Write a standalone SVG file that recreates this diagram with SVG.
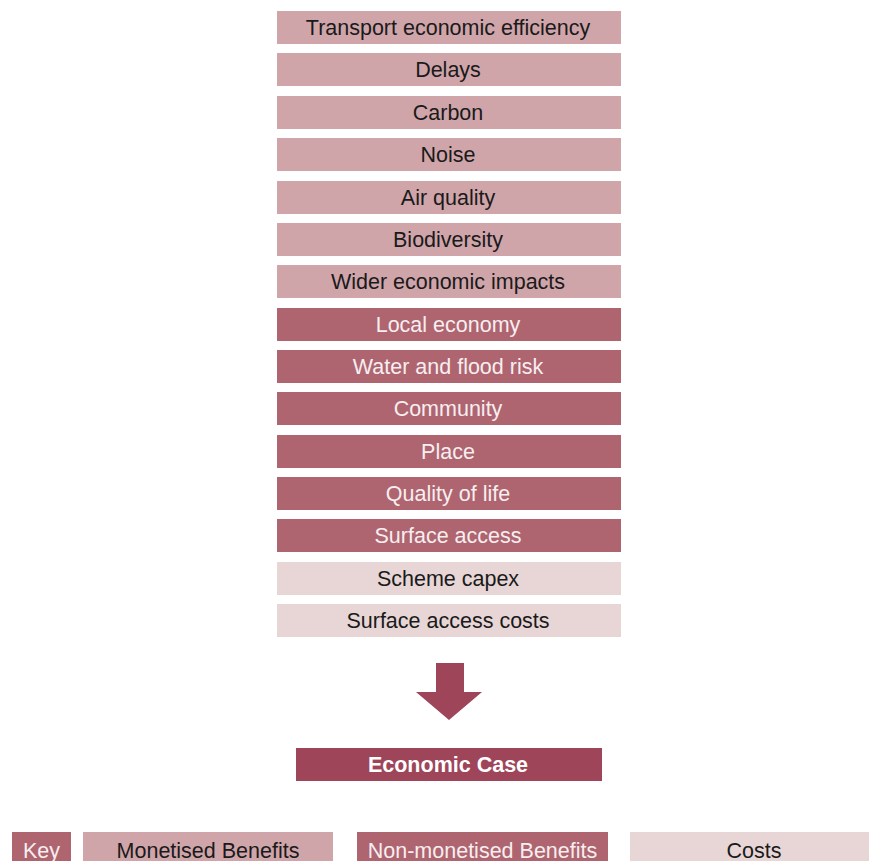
<svg xmlns="http://www.w3.org/2000/svg" width="869" height="861" viewBox="0 0 869 861">
<style>
text{font-family:"Liberation Sans",Arial,sans-serif;font-size:21.5px;text-anchor:middle;dominant-baseline:central}
.m rect{fill:#d0a5aa}.m text{fill:#1a1a1a}
.n rect{fill:#ae6570}.n text{fill:#f7eef0}
.c rect{fill:#e8d6d7}.c text{fill:#1a1a1a}
</style>
<rect width="869" height="861" fill="#fff"/>
<g id="n1" class="m"><rect x="277" y="11" width="344" height="33"/><text x="448" y="28">Transport economic efficiency</text></g>
<g id="n2" class="m"><rect x="277" y="53" width="344" height="33"/><text x="448" y="70">Delays</text></g>
<g id="n3" class="m"><rect x="277" y="96" width="344" height="33"/><text x="448" y="113">Carbon</text></g>
<g id="n4" class="m"><rect x="277" y="138" width="344" height="33"/><text x="448" y="155">Noise</text></g>
<g id="n5" class="m"><rect x="277" y="181" width="344" height="33"/><text x="448" y="198">Air quality</text></g>
<g id="n6" class="m"><rect x="277" y="223" width="344" height="33"/><text x="448" y="240">Biodiversity</text></g>
<g id="n7" class="m"><rect x="277" y="265" width="344" height="33"/><text x="448" y="282">Wider economic impacts</text></g>
<g id="n8" class="n"><rect x="277" y="308" width="344" height="33"/><text x="448" y="325">Local economy</text></g>
<g id="n9" class="n"><rect x="277" y="350" width="344" height="33"/><text x="448" y="367">Water and flood risk</text></g>
<g id="n10" class="n"><rect x="277" y="392" width="344" height="33"/><text x="448" y="409">Community</text></g>
<g id="n11" class="n"><rect x="277" y="435" width="344" height="33"/><text x="448" y="452">Place</text></g>
<g id="n12" class="n"><rect x="277" y="477" width="344" height="33"/><text x="448" y="494">Quality of life</text></g>
<g id="n13" class="n"><rect x="277" y="519" width="344" height="33"/><text x="448" y="536">Surface access</text></g>
<g id="n14" class="c"><rect x="277" y="562" width="344" height="33"/><text x="448" y="579">Scheme capex</text></g>
<g id="n15" class="c"><rect x="277" y="604" width="344" height="33"/><text x="448" y="621">Surface access costs</text></g>
<g id="connectors"><polygon points="436,663 464,663 464,692 482,692 449,720 416,692 436,692" fill="#9e455a"/></g>
<g id="economic-case"><rect x="296" y="748" width="306" height="33" fill="#9e455a"/><text x="448" y="765" fill="#fff" font-weight="bold">Economic Case</text></g>
<g id="key">
<g class="n"><rect x="12" y="832" width="59" height="40"/><text x="41.5" y="851">Key</text></g>
<g class="m"><rect x="83" y="832" width="250" height="40"/><text x="208" y="851">Monetised Benefits</text></g>
<g class="n"><rect x="357" y="832" width="251" height="40"/><text x="482.5" y="851">Non-monetised Benefits</text></g>
<g class="c"><rect x="630" y="832" width="239" height="40"/><text x="754" y="851">Costs</text></g>
</g>
</svg>
